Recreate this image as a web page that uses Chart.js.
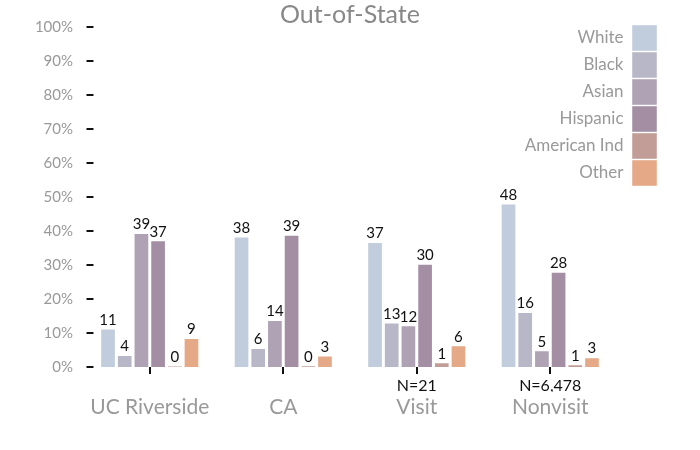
<!DOCTYPE html>
<html>
<head>
<meta charset="utf-8">
<script src="https://cdn.jsdelivr.net/npm/chart.js@4/dist/chart.umd.min.js"></script>
<style>
  html, body { margin: 0; padding: 0; background: #fff; }
  #wrap { width: 700px; height: 450px; }
</style>
</head>
<body>
<div id="wrap"><canvas id="chart" width="700" height="450"></canvas></div>
<script>
const categories = ['UC Riverside', 'CA', 'Visit', 'Nonvisit']
const sampleSizes = ['', '', 'N=21', 'N=6,478']
const groups = ['White', 'Black', 'Asian', 'Hispanic', 'American Ind', 'Other']
const colors = ['#c1ccdc', '#b8b7c8', '#afa2b5', '#a48ea4', '#c29c97', '#e6a987']

// percent of students, per category
const white = [11.3, 38.4, 36.8, 48.1]
const black = [3.5, 5.6, 13.1, 16.2]
const asian = [39.4, 13.8, 12.3, 4.9]
const hispanic = [37.3, 38.9, 30.4, 28.0]
const americanInd = [0.3, 0.4, 1.4, 0.8]
const other = [8.5, 3.4, 6.4, 2.9]

const yTicks = [0, 10, 20, 30, 40, 50, 60, 70, 80, 90, 100]

const series = [white, black, asian, hispanic, americanInd, other]

Chart.defaults.font.family = 'Lato, "Noto Sans", sans-serif'

// numbers over each bar
const valueLabels = {
  id: 'valueLabels',
  afterDatasetsDraw(chart) {
    const ctx = chart.ctx
    ctx.save()
    ctx.font = '15px Lato, "Noto Sans", sans-serif'
    ctx.fillStyle = '#111'
    ctx.textAlign = 'center'
    ctx.textBaseline = 'bottom'
    chart.data.datasets.forEach((ds, i) => {
      chart.getDatasetMeta(i).data.forEach((bar, j) => {
        ctx.fillText(Math.round(ds.data[j]), bar.x, bar.y - 1)
      })
    })
    ctx.restore()
  },
}

// short y tick dashes sitting a little inside the plot
const yDashes = {
  id: 'yDashes',
  afterDraw(chart) {
    const ctx = chart.ctx
    const y = chart.scales.y
    const left = chart.chartArea.left
    ctx.save()
    ctx.strokeStyle = '#111'
    ctx.lineWidth = 2
    y.ticks.forEach((t, i) => {
      const py = Math.round(y.getPixelForTick(i))
      ctx.beginPath()
      ctx.moveTo(left + 3.5, py)
      ctx.lineTo(left + 10.5, py)
      ctx.stroke()
    })
    ctx.restore()
  },
}

// put the legend at the top right corner of the plot
const legendCorner = {
  id: 'legendCorner',
  afterLayout(chart) {
    const lg = chart.legend
    const area = chart.chartArea
    const w = lg.width
    lg.right = area.right + 41
    lg.left = lg.right - w
    lg.top = area.top - 3
    lg.bottom = lg.top + lg.height
  },
}

new Chart(document.getElementById('chart'), {
  type: 'bar',
  data: {
    labels: categories,
    datasets: groups.map((g, i) => ({
      label: g,
      data: series[i],
      backgroundColor: colors[i],
      borderColor: 'rgba(255,255,255,0.45)',
      borderWidth: 1,
      barPercentage: 0.94,
      categoryPercentage: 0.75,
    })),
  },
  options: {
    responsive: false,
    animation: false,
    devicePixelRatio: 1,
    layout: { padding: { left: 0, right: 0, top: 0, bottom: 30 } },
    scales: {
      y: {
        min: 0,
        max: 100,
        afterBuildTicks: (s) => { s.ticks = yTicks.map((v) => ({ value: v })) },
        afterFit: (s) => { s.width = 83 },
        grid: { display: false },
        border: { display: false },
        ticks: {
          padding: 2,
          color: '#999',
          font: { size: 15 },
          callback: (v) => v + '%',
        },
      },
      // empty right axis keeping the plot centred on the page
      yRight: {
        position: 'right',
        min: 0,
        max: 100,
        afterFit: (s) => { s.width = 83 },
        grid: { display: false },
        border: { display: false },
        ticks: { display: false },
      },
      n: {
        type: 'category',
        position: 'bottom',
        labels: sampleSizes,
        offset: true,
        weight: 0,
        afterFit: (s) => { s.height = 25 },
        grid: {
          display: true,
          drawOnChartArea: false,
          drawTicks: true,
          tickLength: 7,
          offset: false,
          color: '#111',
          lineWidth: 2,
        },
        border: { display: false },
        ticks: { color: '#111', padding: 2, font: { size: 16 } },
      },
      x: {
        position: 'bottom',
        weight: 1,
        afterFit: (s) => { s.height = 28 },
        grid: { display: false },
        border: { display: false },
        ticks: { color: '#999', padding: -5, font: { size: 21 } },
      },
    },
    plugins: {
      title: {
        display: true,
        text: 'Out-of-State',
        color: '#888',
        font: { size: 25, weight: 'normal', lineHeight: 1 },
        padding: { top: 2, bottom: 0 },
      },
      legend: {
        position: 'chartArea',
        align: 'start',
        rtl: true,
        textDirection: 'ltr',
        labels: {
          boxWidth: 25,
          boxHeight: 26,
          padding: 1,
          color: '#999',
          font: { size: 17 },
        },
      },
      tooltip: { enabled: false },
    },
  },
  plugins: [valueLabels, yDashes, legendCorner],
})
</script>
</body>
</html>
